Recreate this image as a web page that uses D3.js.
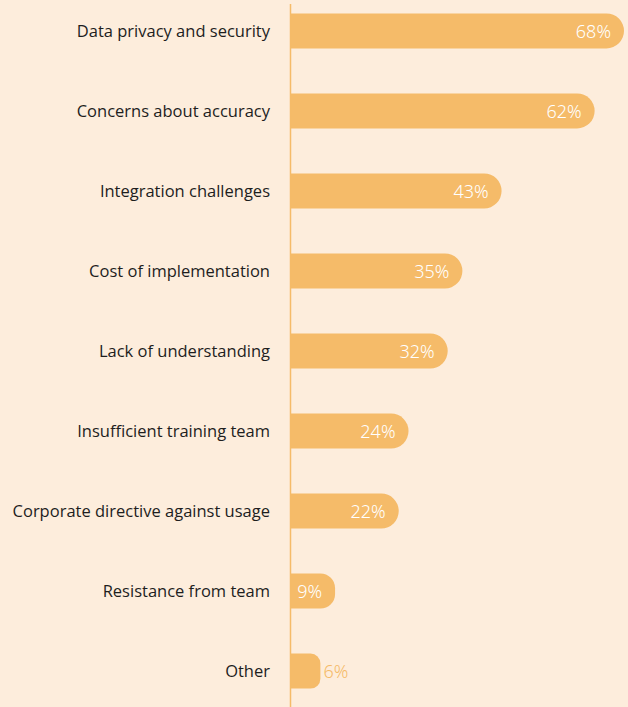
<!DOCTYPE html>
<html>
<head>
<meta charset="utf-8">
<script src="https://cdn.jsdelivr.net/npm/d3@7"></script>
<style>
  html, body { margin: 0; padding: 0; background: #fdeddc; }
  svg { display: block; }
</style>
</head>
<body>
<div id="chart"></div>
<script>
// Barriers to adoption, share of respondents (%)
const categories = [
  "Data privacy and security",
  "Concerns about accuracy",
  "Integration challenges",
  "Cost of implementation",
  "Lack of understanding",
  "Insufficient training team",
  "Corporate directive against usage",
  "Resistance from team",
  "Other"
];
const values = [68, 62, 43, 35, 32, 24, 22, 9, 6];

const W = 628, H = 707;
const margin = { top: 0, left: 291, right: 4, bottom: 0 };
const barColor = "#f5bb69";

const svg = d3.select("#chart").append("svg")
  .attr("width", W).attr("height", H);

svg.append("rect").attr("width", W).attr("height", H).attr("fill", "#fdeddc");

const x = d3.scaleLinear().domain([0, 68]).range([margin.left, 624]);
const y = d3.scaleBand().domain(categories).range([-9, 711]).paddingInner(0.5625).paddingOuter(0.28);

const data = categories.map((c, i) => ({ c, v: values[i] }));
const bh = y.bandwidth();

// Bars: flat on the axis side, rounded at the value end
function barPath(d) {
  const x0 = x(0), x1 = x(d.v), y0 = y(d.c), h = bh;
  const w = x1 - x0;
  const r = Math.min(h / 2, w / 3);
  return `M${x0},${y0}H${x1 - r}A${r},${r} 0 0 1 ${x1},${y0 + r}` +
         `V${y0 + h - r}A${r},${r} 0 0 1 ${x1 - r},${y0 + h}H${x0}Z`;
}

svg.append("g").selectAll("path").data(data).join("path")
  .attr("d", barPath)
  .attr("fill", barColor);

// Category axis line
svg.append("line")
  .attr("x1", margin.left - 0.5).attr("x2", margin.left - 0.5)
  .attr("y1", 4).attr("y2", H)
  .attr("stroke", barColor).attr("stroke-width", 1.5);

// Category labels
svg.append("g").selectAll("text").data(data).join("text")
  .attr("x", 270)
  .attr("y", d => y(d.c) + bh / 2)
  .attr("dy", "0.35em")
  .attr("text-anchor", "end")
  .attr("font-family", "'Open Sans', sans-serif")
  .attr("font-size", 16.5)
  .attr("fill", "#1e1e1e")
  .text(d => d.c);

// Value labels: inside the bar when it fits, otherwise just past its end
svg.append("g").selectAll("text").data(data).join("text")
  .attr("x", d => (x(d.v) - x(0) > 36) ? x(d.v) - 13 : x(d.v) + 3)
  .attr("y", d => y(d.c) + bh / 2 + 1)
  .attr("dy", "0.35em")
  .attr("text-anchor", d => (x(d.v) - x(0) > 36) ? "end" : "start")
  .attr("font-family", "'Noto Sans', 'Open Sans', sans-serif")
  .attr("font-weight", 300)
  .attr("font-size", 18)
  .attr("fill", d => (x(d.v) - x(0) > 36) ? "#ffffff" : barColor)
  .text(d => d.v + "%");
</script>
</body>
</html>
